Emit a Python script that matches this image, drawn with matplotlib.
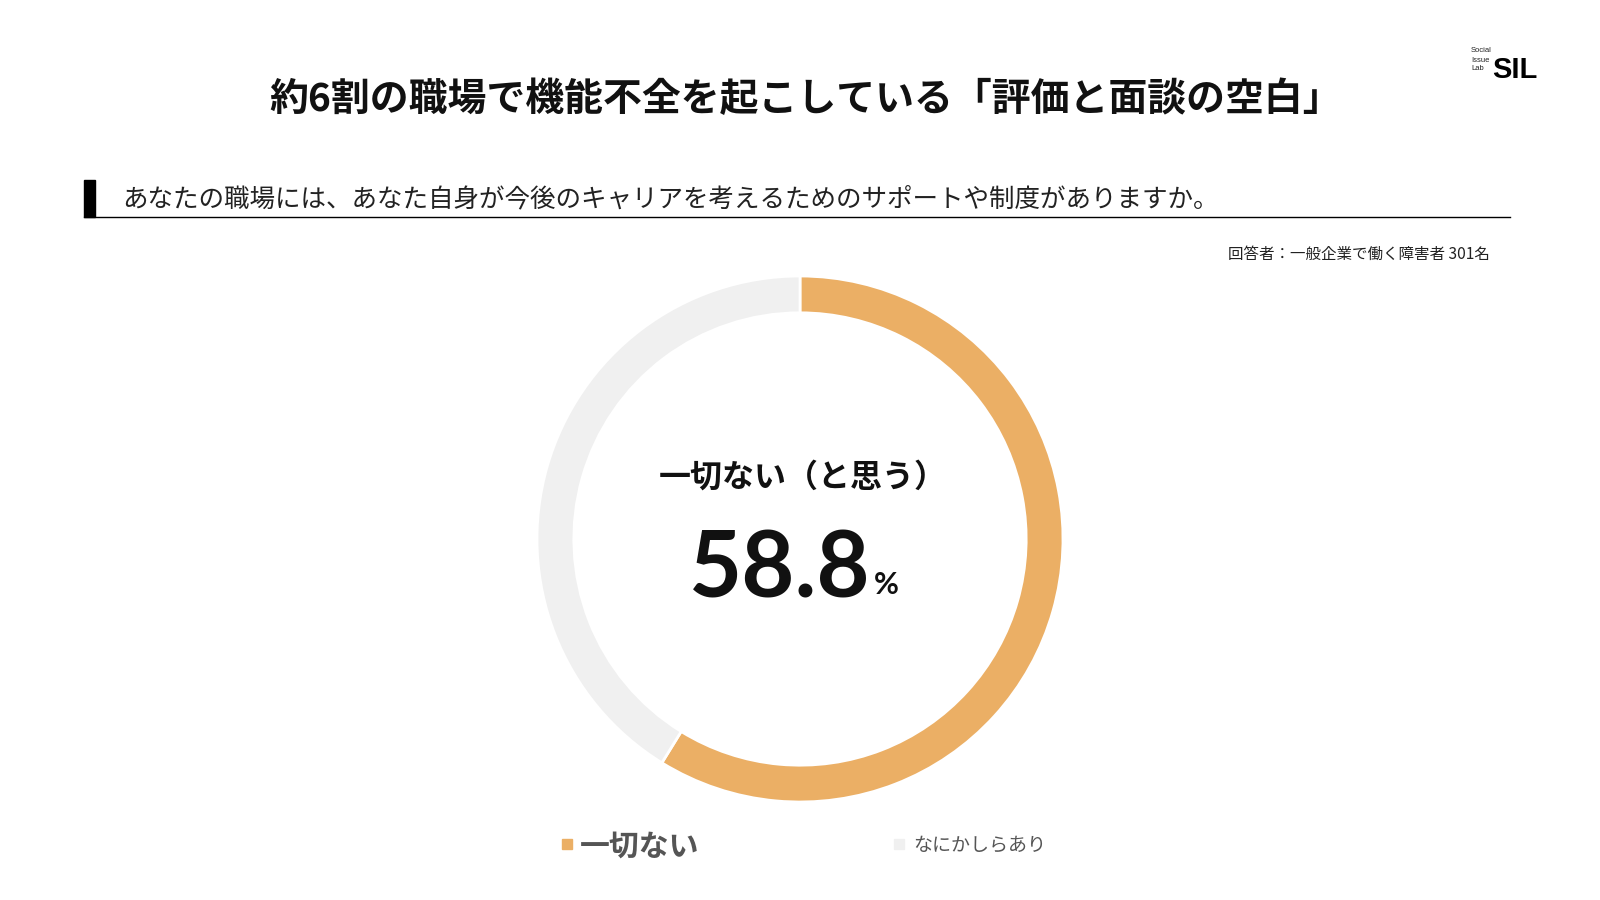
import matplotlib
matplotlib.use("Agg")
import matplotlib.pyplot as plt

plt.rcParams['font.family'] = ['Noto Sans CJK JP', 'DejaVu Sans']

# Data
labels = ["一切ない", "なにかしらあり"]
values = [58.8, 41.2]
colors = ["#EBAF65", "#F0F0F0"]

title = "約6割の職場で機能不全を起こしている「評価と面談の空白」"
question = "あなたの職場には、あなた自身が今後のキャリアを考えるためのサポートや制度がありますか。"
note = "回答者：一般企業で働く障害者 301名"

fig = plt.figure(figsize=(16, 9), dpi=100)
W, H = 1600, 900

def fx(x):
    return x / W

def fy(y):
    return 1 - y / H

# Title
fig.text(fx(806), fy(99), title, ha="center", va="center", fontsize=28,
         fontweight="bold", color="#111111")

# Question bar + underline
fig.patches.append(plt.Rectangle((fx(84), fy(217)), fx(11), (217 - 180) / H,
                                 transform=fig.transFigure, color="black"))
fig.add_artist(plt.Line2D([fx(84), fx(1510)], [fy(217), fy(217)],
                          transform=fig.transFigure, color="black", lw=1))
fig.text(fx(122), fy(199), question, ha="left", va="center", fontsize=18.4,
         color="#222222")

# Note
fig.text(fx(1490), fy(254), note, ha="right", va="center", fontsize=11.2,
         color="#222222")

# Logo
for i, w in enumerate(["Social", "Issue", "Lab"]):
    fig.text(fx(1471), fy(51 + i * 9), w, ha="left", va="center", fontsize=5.5,
             family="Liberation Sans", color="#222222")
fig.text(fx(1492), fy(70), "SIL", ha="left", va="center", fontsize=21,
         fontweight="bold", family="Liberation Sans", color="black")

# Donut
ax = fig.add_axes([fx(537), fy(802), 526 / W, 526 / H])
ax.pie(values, colors=colors, startangle=90, counterclock=False, radius=1,
       wedgeprops=dict(width=0.14, edgecolor="white", linewidth=2))
ax.set_xlim(-1, 1)
ax.set_ylim(-1, 1)
ax.axis("off")

# Center text
fig.text(fx(803), fy(478), "一切ない（と思う）", ha="center", va="center",
         fontsize=23, fontweight="bold", color="#111111")
fig.text(fx(780), fy(571), f"{values[0]}", ha="center", va="center",
         fontsize=66, color="#111111", family="Lato", fontweight="bold")
fig.text(fx(874), fy(585), "%", ha="left", va="center", fontsize=22,
         color="#111111", family="Lato", fontweight="bold")

# Legend
fig.patches.append(plt.Rectangle((fx(562), fy(849)), 10 / W, 10 / H,
                                 transform=fig.transFigure, color=colors[0]))
fig.text(fx(580), fy(847), labels[0], ha="left", va="center", fontsize=21.5,
         fontweight="bold", color="#555555")
fig.patches.append(plt.Rectangle((fx(894), fy(849)), 10 / W, 10 / H,
                                 transform=fig.transFigure, color=colors[1]))
fig.text(fx(913), fy(845), labels[1], ha="left", va="center", fontsize=13.7,
         color="#555555")

fig.savefig("out.png", dpi=100, facecolor="white")
